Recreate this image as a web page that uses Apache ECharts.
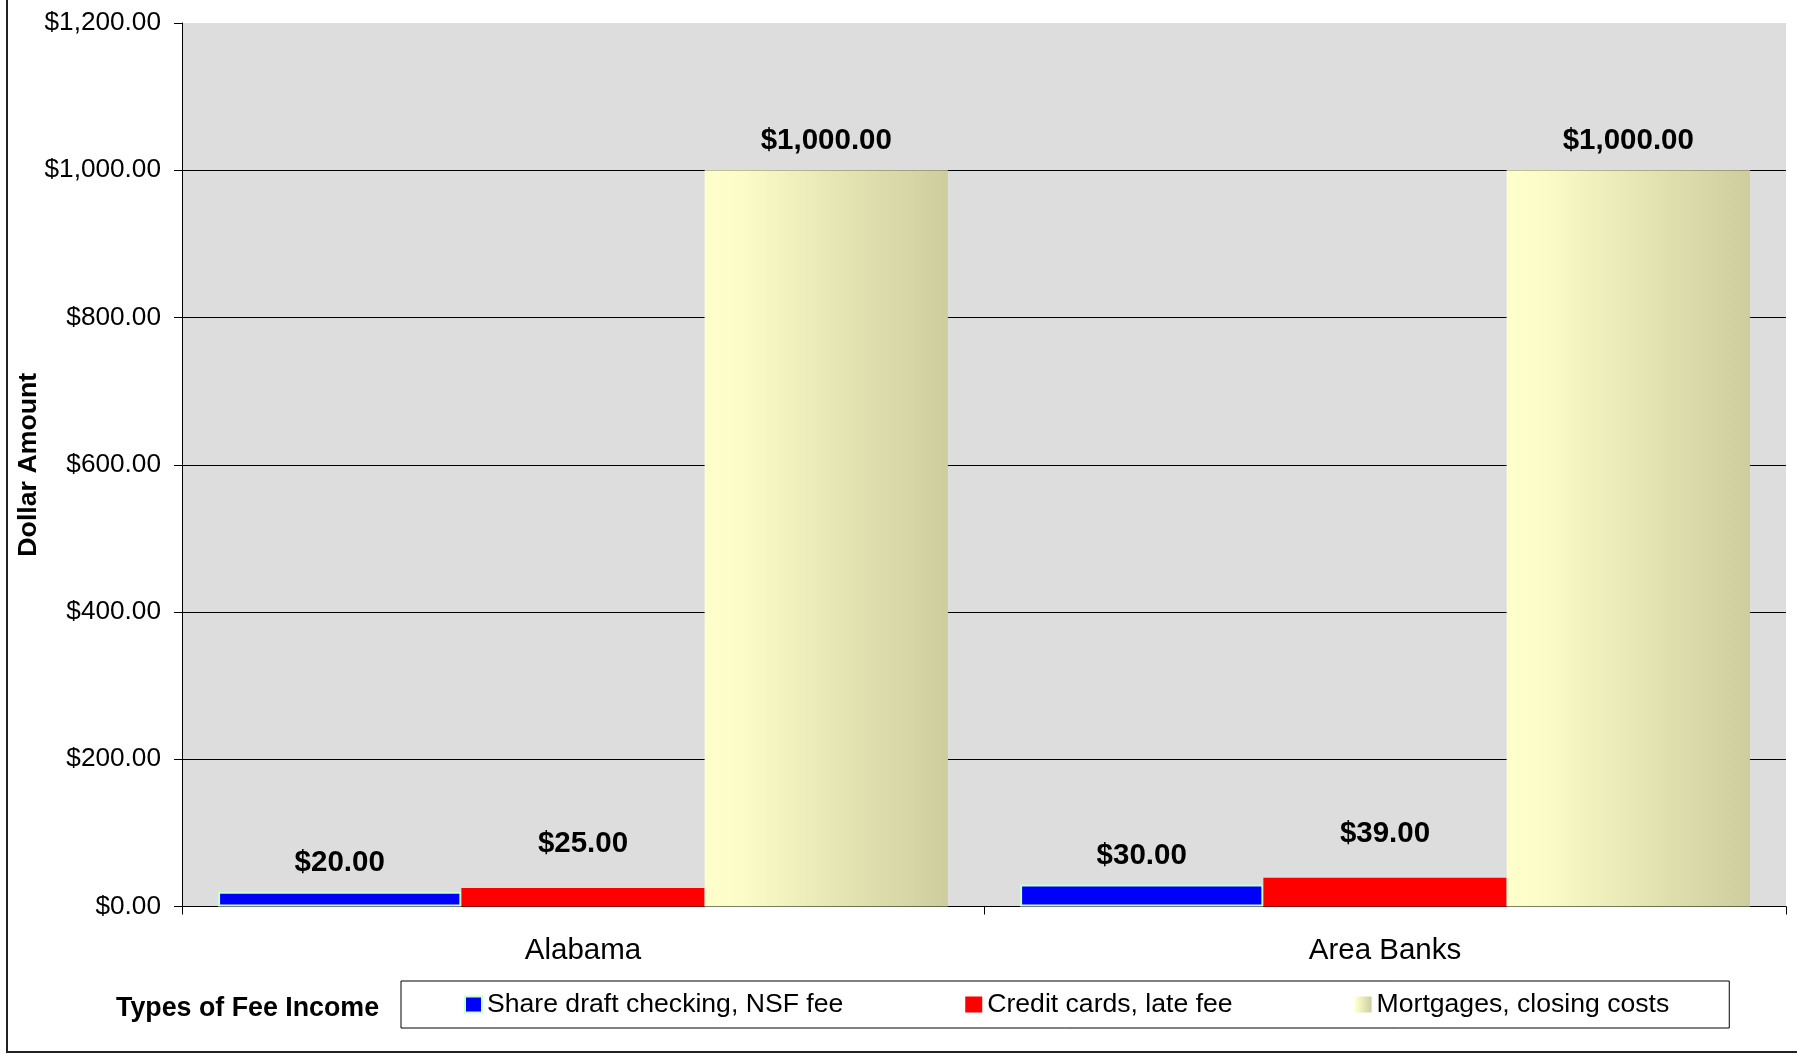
<!DOCTYPE html>
<html>
<head>
<meta charset="utf-8">
<title>Types of Fee Income</title>
<script src="https://cdn.jsdelivr.net/npm/echarts@6/dist/echarts.min.js"></script>
<style>
  html, body { margin: 0; padding: 0; background: #ffffff; }
  #chart { width: 1797px; height: 1055px; }
</style>
</head>
<body>
<div id="chart"></div>
<script>
// Fee amounts by institution type
const categories = ['Alabama', 'Area Banks'];
const seriesNames = ['Share draft checking, NSF fee', 'Credit cards, late fee', 'Mortgages, closing costs'];
const nsfFee = [20, 30];
const lateFee = [25, 39];
const closingCosts = [1000, 1000];
const yMin = 0, yMax = 1200, yStep = 200;

const FONT = '"Liberation Sans", Arial, Helvetica, sans-serif';

function money(v) {
  return '$' + Number(v).toLocaleString('en-US', { minimumFractionDigits: 2, maximumFractionDigits: 2 });
}

function valueLabel(distance) {
  return {
    show: true,
    position: 'top',
    distance: distance,
    formatter: p => money(p.value),
    fontFamily: FONT,
    fontWeight: 'bold',
    fontSize: 29.5,
    color: '#000'
  };
}

const mortgageFill = {
  type: 'linear', x: 0, y: 0, x2: 1, y2: 0,
  colorStops: [
    { offset: 0, color: '#FFFFCC' },
    { offset: 0.15, color: '#FCFCC8' },
    { offset: 1, color: '#CDCD9E' }
  ]
};

const chart = echarts.init(document.getElementById('chart'), null, { renderer: 'canvas' });

chart.setOption({
  backgroundColor: '#ffffff',
  animation: false,
  textStyle: { fontFamily: FONT },
  grid: {
    left: 182, right: 11, top: 23, bottom: 148.5,
    containLabel: false,
    outerBoundsMode: 'none',
    show: true, backgroundColor: '#DDDDDD', borderWidth: 0
  },
  legend: {
    left: 401, top: 981,
    padding: [10, 60, 10, 63],
    itemGap: 122,
    itemWidth: 17, itemHeight: 16,
    icon: 'rect',
    borderColor: '#000', borderWidth: 1,
    backgroundColor: '#ffffff',
    textStyle: { fontFamily: FONT, fontSize: 26.6, color: '#000' },
    data: seriesNames
  },
  xAxis: {
    type: 'category',
    data: categories,
    axisLine: { show: true, lineStyle: { color: '#000', width: 1 } },
    axisTick: { show: true, length: 8, alignWithLabel: false, lineStyle: { color: '#000' } },
    axisLabel: { fontFamily: FONT, fontSize: 29.5, color: '#000', margin: 29 },
    splitLine: { show: false }
  },
  yAxis: {
    type: 'value',
    min: yMin, max: yMax, interval: yStep,
    name: 'Dollar Amount',
    nameLocation: 'middle',
    nameRotate: 90,
    nameGap: 140,
    nameMoveOverlap: false,
    nameTextStyle: { fontFamily: FONT, fontWeight: 'bold', fontSize: 26.7, color: '#000' },
    axisLine: { show: true, lineStyle: { color: '#000', width: 1 } },
    axisTick: { show: true, length: 8, inside: false, lineStyle: { color: '#000' } },
    axisLabel: { fontFamily: FONT, fontSize: 26.2, color: '#000', margin: 21, formatter: v => money(v) },
    splitLine: { show: true, showMaxLine: false, lineStyle: { color: '#000', width: 1 } }
  },
  series: [
    {
      name: seriesNames[0],
      type: 'bar',
      data: nsfFee,
      barGap: '0%',
      barCategoryGap: '9%',
      itemStyle: { color: '#0000FF', borderColor: '#CCFFCC', borderWidth: 2 },
      label: valueLabel(14)
    },
    {
      name: seriesNames[1],
      type: 'bar',
      data: lateFee,
      barGap: '0%',
      barCategoryGap: '9%',
      itemStyle: { color: '#FF0000' },
      label: valueLabel(29)
    },
    {
      name: seriesNames[2],
      type: 'bar',
      data: closingCosts,
      barGap: '0%',
      barCategoryGap: '9%',
      itemStyle: { color: mortgageFill },
      label: valueLabel(14)
    }
  ],
  graphic: [
    {
      type: 'rect',
      silent: true,
      shape: { x: 7, y: -10, width: 1800, height: 1062 },
      style: { fill: null, stroke: '#222', lineWidth: 2 }
    },
    {
      type: 'text',
      silent: true,
      left: 116, top: 995,
      style: {
        text: 'Types of Fee Income',
        font: 'bold 26.8px ' + FONT,
        fill: '#000'
      }
    }
  ]
});
</script>
</body>
</html>
